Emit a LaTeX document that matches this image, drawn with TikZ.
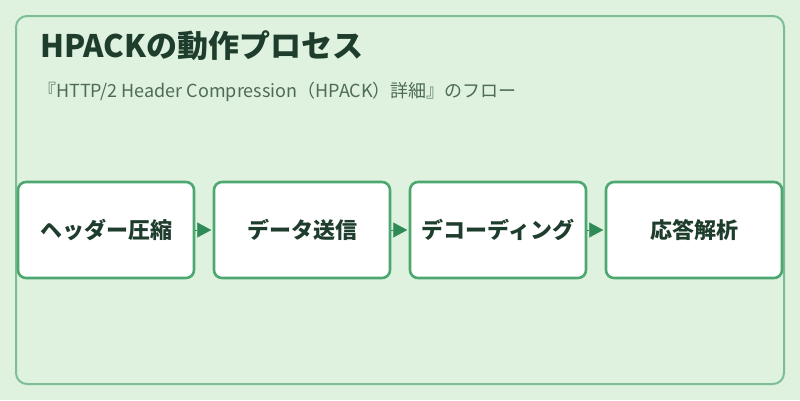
\documentclass[tikz,border=0pt]{standalone}
\usepackage{fontspec}
\usetikzlibrary{arrows.meta}
\setmainfont{Noto Sans CJK JP}
\definecolor{bgc}{HTML}{DFF2DF}
\definecolor{outerc}{HTML}{7DBE94}
\definecolor{boxc}{HTML}{4CA870}
\definecolor{arrc}{HTML}{2E8B57}
\definecolor{titlec}{HTML}{1E3D2C}
\definecolor{subc}{HTML}{4E6B58}
\begin{document}
\begin{tikzpicture}[x=1pt,y=-1pt,
  stepbox/.style={draw=boxc,line width=2.6pt,fill=white,rounded corners=8pt,
    minimum width=176pt,minimum height=96pt,inner sep=0pt,
    font=\fontsize{22}{26}\selectfont\bfseries,text=titlec},
  flowarrow/.style={draw=arrc,fill=arrc,line width=0.2pt,shorten >=1.5pt,
    -{Triangle[length=14pt,width=15pt]}}]
\useasboundingbox (0,0) rectangle (800,400);
\fill[bgc] (0,0) rectangle (800,400);
\draw[outerc,line width=2pt,rounded corners=11pt] (16,16) rectangle (784,384);
\node[anchor=base west,inner sep=0pt,text=titlec,font=\fontsize{31}{34}\selectfont\bfseries] (title) at (40,57) {HPACKの動作プロセス};
\node[anchor=base west,inner sep=0pt,text=subc,font=\fontsize{18}{22}\selectfont] (sub) at (38,97) {『HTTP/2 Header Compression（HPACK）詳細』のフロー};
\node[stepbox] (b1) at (106,230) {ヘッダー圧縮};
\node[stepbox] (b2) at (302,230) {データ送信};
\node[stepbox] (b3) at (498,230) {デコーディング};
\node[stepbox] (b4) at (694,230) {応答解析};
\draw[flowarrow] (b1.east) -- (b2.west);
\draw[flowarrow] (b2.east) -- (b3.west);
\draw[flowarrow] (b3.east) -- (b4.west);
\end{tikzpicture}
\end{document}
